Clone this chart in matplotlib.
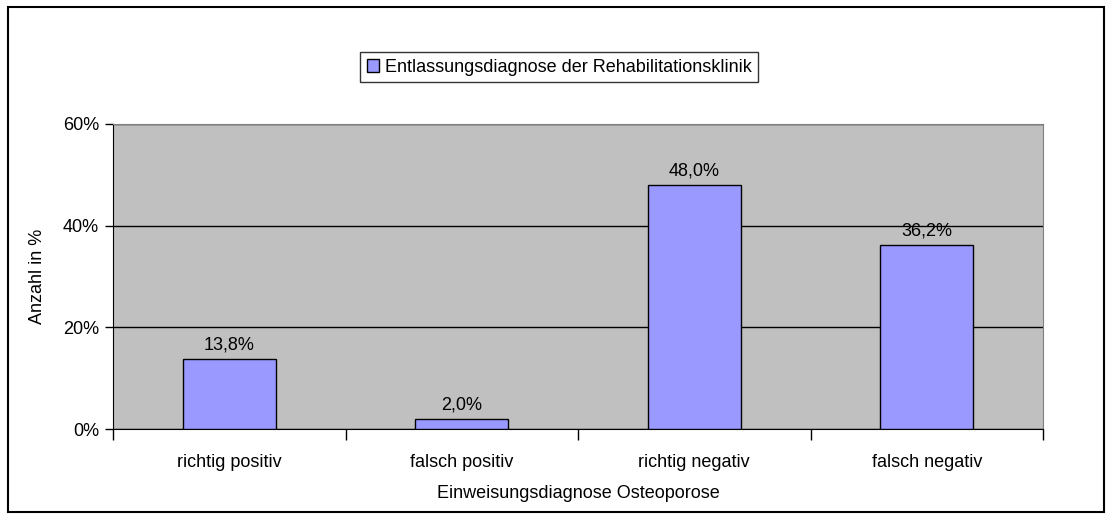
import numpy as np
import matplotlib.pyplot as plt
from matplotlib.patches import Rectangle
from matplotlib.ticker import FixedLocator, NullFormatter

categories = ['richtig positiv', 'falsch positiv', 'richtig negativ', 'falsch negativ']
values = [13.8, 2.0, 48.0, 36.2]
labels = ['13,8%', '2,0%', '48,0%', '36,2%']
y_ticks = [0, 20, 40, 60]

plt.rcParams['font.family'] = ['Liberation Sans', 'DejaVu Sans']
fs = 13

fig = plt.figure(figsize=(11.11, 5.19), dpi=100)
W, H = 1111, 519
left, right, top, bottom = 113, 1043, 124, 429
ax = fig.add_axes([left / W, 1 - bottom / H, (right - left) / W, (bottom - top) / H])
ax.set_facecolor('#c0c0c0')

x = np.arange(len(categories))
ax.bar(x, values, width=0.4, color='#9999ff', edgecolor='black', linewidth=1,
       label='Entlassungsdiagnose der Rehabilitationsklinik', zorder=3)
for xi, v, lab in zip(x, values, labels):
    ax.text(xi, v + 1.0, lab, ha='center', va='bottom', fontsize=fs)

ax.set_xlim(-0.5, len(categories) - 0.5)
ax.set_ylim(0, 60)
ax.set_yticks(y_ticks)
ax.set_yticklabels([f'{t}%' for t in y_ticks], fontsize=fs)
ax.yaxis.grid(True, color='black', linewidth=1)
ax.set_axisbelow(True)

ax.xaxis.set_major_locator(FixedLocator(np.arange(-0.5, len(categories), 1.0)))
ax.xaxis.set_major_formatter(NullFormatter())
ax.xaxis.set_minor_locator(FixedLocator(x))
ax.set_xticklabels(categories, minor=True, fontsize=fs)
ax.tick_params(axis='x', which='minor', length=0, pad=18)
ax.tick_params(axis='x', which='major', length=8, width=1, direction='out')
ax.tick_params(axis='y', length=6, width=1, direction='out', pad=4)

for s in ['top', 'right']:
    ax.spines[s].set_color('#808080')
for s in ['left', 'bottom']:
    ax.spines[s].set_color('black')

ax.set_xlabel('Einweisungsdiagnose Osteoporose', fontsize=fs, labelpad=10)
ax.set_ylabel('Anzahl in %', fontsize=fs, labelpad=12)

leg = ax.legend(loc='center', bbox_to_anchor=(559 / W, 1 - 67 / H), bbox_transform=fig.transFigure,
                fontsize=fs, frameon=True, fancybox=False, edgecolor='black',
                handlelength=0.7, handleheight=0.7, handletextpad=0.3, borderpad=0.35)
leg.get_frame().set_linewidth(1)

fig.patches.append(Rectangle((8 / W, 7 / H), 1096 / W, 505 / H, transform=fig.transFigure,
                             fill=False, edgecolor='black', linewidth=1.5))

fig.savefig('out.png', dpi=100)
